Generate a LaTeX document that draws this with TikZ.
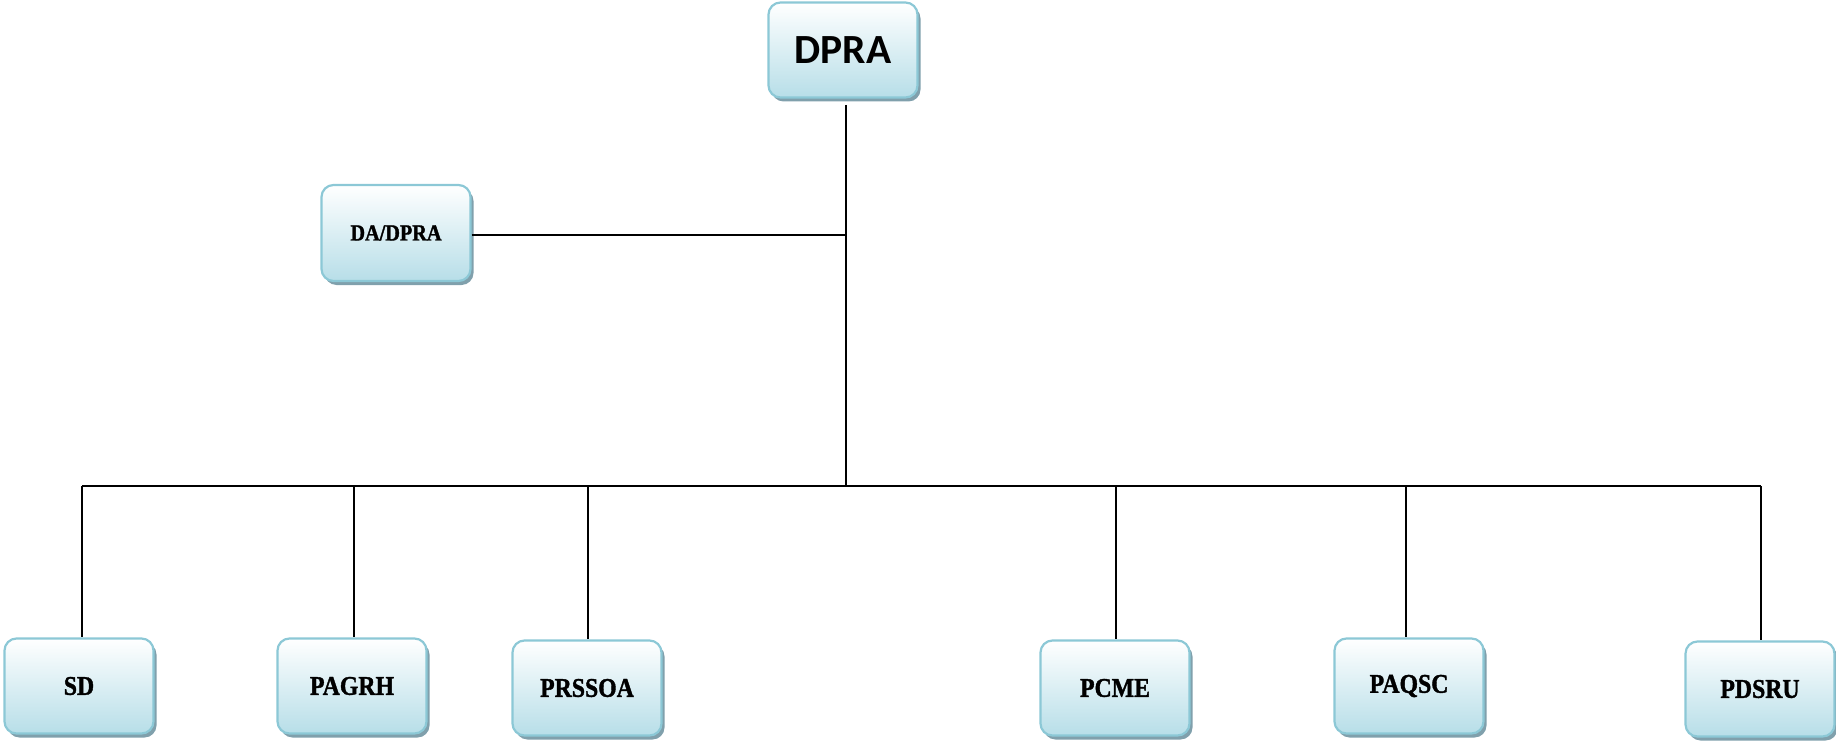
\documentclass[tikz,border=0pt]{standalone}
\usepackage{fontspec}
\setmainfont{Liberation Serif}[FakeBold=1.4,FakeStretch=0.88]
\newfontfamily\calfont{Carlito}
\usetikzlibrary{shadows}
\definecolor{boxedge}{RGB}{140,200,214}
\definecolor{boxbot}{RGB}{183,222,232}
\definecolor{shadowc}{RGB}{128,160,172}
\tikzset{
  orgbox/.style={rounded corners=12pt, draw=boxedge, line width=2.2pt,
    top color=white, bottom color=boxbot,
    minimum width=149pt, minimum height=95pt, inner sep=0pt,
    drop shadow={shadow xshift=3pt, shadow yshift=-4pt, fill=shadowc, opacity=1},
    font=\bfseries\fontsize{27}{31}\selectfont},
  conn/.style={line width=2pt, black}
}
\begin{document}
\begin{tikzpicture}[x=1pt,y=-1pt]
\useasboundingbox (0,0) rectangle (1836,741);
\node[orgbox, font=\calfont\bfseries\fontsize{41.5}{46}\selectfont] (dpra) at (843,50) {DPRA};
\node[orgbox, minimum height=96pt, font=\bfseries\fontsize{23}{27}\selectfont] (da) at (396,233) {DA/DPRA};
\node[orgbox] (sd) at (79,686) {SD};
\node[orgbox] (pagrh) at (352,686) {PAGRH};
\node[orgbox] (prssoa) at (587,688) {PRSSOA};
\node[orgbox] (pcme) at (1115,688) {PCME};
\node[orgbox] (paqsc) at (1409,686) {PAQSC};
\node[orgbox] (pdsru) at (1760,689) {PDSRU};
\coordinate (top) at (845.5,105);
\coordinate (hub) at (845.5,235);
\coordinate (bus) at (845.5,486);
\coordinate (busL) at (82,486);
\coordinate (busR) at (1761,486);
\draw[conn] (top) -- (bus);
\draw[conn] (da.east |- hub) -- (hub);
\draw[conn] (busL) -- (busR);
\draw[conn] (busL) -- (busL |- sd.north);
\draw[conn] (353.6,486) -- (353.6,486 |- pagrh.north);
\draw[conn] (588,486) -- (588,486 |- prssoa.north);
\draw[conn] (1116,486) -- (1116,486 |- pcme.north);
\draw[conn] (1406,486) -- (1406,486 |- paqsc.north);
\draw[conn] (busR) -- (busR |- pdsru.north);
\end{tikzpicture}
\end{document}
